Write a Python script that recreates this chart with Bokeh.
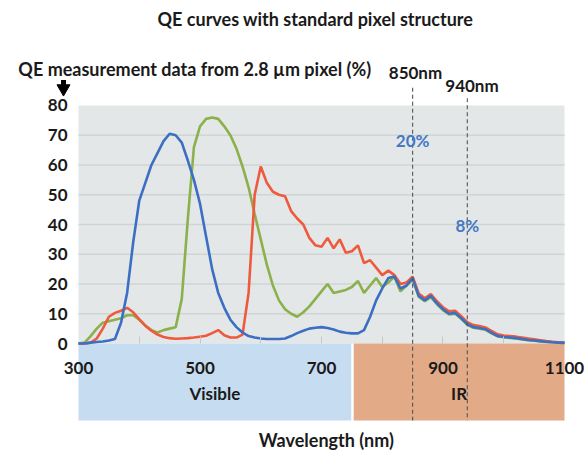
from bokeh.plotting import figure
from bokeh.models import ColumnDataSource, FixedTicker, Range1d
from bokeh.core.properties import value
from bokeh.embed import file_html
from bokeh.resources import INLINE

# ---------------- data ----------------
wavelength = list(range(300, 1101, 10))
blue = [0, 0, 0.3, 0.5, 0.7, 1, 1.5, 7, 17, 34,
        48, 54, 60, 64, 68, 70.5, 70, 67.5, 61.5, 55,
        47, 36, 25, 17, 12, 8, 5.5, 3.7, 2.5, 2,
        1.7, 1.5, 1.5, 1.5, 1.7, 2.5, 3.5, 4.3, 5, 5.3,
        5.5, 5.2, 4.7, 4, 3.6, 3.4, 3.4, 4.5, 9, 14.5,
        18.5, 22, 22.5, 18.5, 19.5, 22, 16, 14.5, 16, 13.5,
        11.5, 10, 10.3, 8.5, 6.5, 5.5, 5.2, 4.8, 3.6, 2.5,
        2.2, 2, 1.8, 1.5, 1.2, 1, 0.8, 0.6, 0.4, 0.3,
        0.2]
green = [0, 0.3, 2.5, 5, 7, 7.5, 8, 8.5, 9.5, 9.5,
         8, 6, 4.5, 3.7, 4.5, 5, 5.5, 15, 42, 66,
         73, 75.5, 76, 75.5, 73, 70, 65.5, 59.5, 52.5, 43.5,
         35, 26.5, 19.5, 14.5, 11.5, 10, 9, 10.5, 12.5, 15,
         17.5, 20, 17, 17.5, 18, 19, 21, 17, 19.5, 22,
         19, 20.5, 22.5, 17.5, 19.5, 21.5, 15.7, 14.2, 15.6, 13.2,
         11.2, 9.8, 10, 8.3, 6.3, 5.3, 5, 4.6, 3.4, 2.4,
         2.1, 1.9, 1.7, 1.4, 1.1, 0.9, 0.7, 0.5, 0.4, 0.3,
         0.2]
red = [0, 0, 0.3, 1.7, 5, 9, 10.3, 11, 12, 10.5,
       8.2, 6, 4.3, 3, 2.2, 1.8, 1.6, 1.7, 1.8, 2,
       2.3, 2.6, 3.5, 4.5, 2.8, 2, 2, 3, 17, 50,
       59.5, 54, 51, 50, 49.5, 44.5, 42, 40, 35.5, 33,
       32.5, 35.5, 32, 35, 30.5, 31, 33, 27, 28, 25.5,
       23, 24.5, 23, 20, 20.5, 22.5, 16.8, 15.2, 16.6, 14.2,
       12.2, 10.8, 11, 9.2, 7.2, 6.2, 5.9, 5.4, 4.2, 3.1,
       2.7, 2.5, 2.3, 2, 1.7, 1.4, 1.1, 0.8, 0.6, 0.4,
       0.3]

y_ticks = [0, 10, 20, 30, 40, 50, 60, 70, 80]
x_ticks = [300, 500, 700, 900, 1100]
x_minor_ticks = [400, 500, 600, 700, 800, 900, 1000]

markers = [850, 940]
marker_labels = ["850nm", "940nm"]
marker_pcts = ["20%", "8%"]

band_names = ["Visible", "IR"]
band_start = [300, 753]
band_end = [749, 1100]

title_text = "QE curves with standard pixel structure"
ylabel_text = "QE measurement data from 2.8 \u00b5m pixel (%)"
xlabel_text = "Wavelength (nm)"

# ---------------- style ----------------
FONT = value("Lato")
TXT = "#1a1a1a"
BLUE = "#3c6fc3"
GREEN = "#8cb04b"
RED = "#ef5a3e"
PCT = "#4479c4"

XMIN, XMAX = 300, 1100
YMIN, YMAX = 0, 80
BAND_BOTTOM = -25.9

p = figure(width=588, height=453, output_backend="svg", toolbar_location=None,
           x_range=Range1d(171.60, 1139.51), y_range=Range1d(-36.97, 115.29),
           min_border=0, min_border_left=0, min_border_right=0,
           min_border_top=0, min_border_bottom=0, title=None)
p.outline_line_color = None
p.background_fill_color = "white"
p.border_fill_color = "white"
p.xgrid.visible = False
p.ygrid.visible = False

# plot background
p.quad(left=[XMIN], right=[XMAX], bottom=[YMIN], top=[YMAX],
       fill_color="#e3e7e7", line_color=None)

# grid lines
p.segment(x0=[XMIN] * (len(y_ticks) - 2), x1=[XMAX] * (len(y_ticks) - 2),
          y0=y_ticks[1:-1], y1=y_ticks[1:-1], line_color="#d0d4d4", line_width=1.5)

# bands
band_src = ColumnDataSource(dict(left=band_start, right=band_end,
                                 color=["#c6dcf1", "#e2aa87"], name=band_names,
                                 mid=[(a + b) / 2 for a, b in zip(band_start, band_end)]))
p.quad(left="left", right="right", bottom=BAND_BOTTOM, top=YMIN, fill_color="color",
       line_color=None, source=band_src)
p.text(x="mid", y=-16.8, text="name", source=band_src, text_font=FONT,
       text_font_style="bold", text_font_size="17px", text_color=TXT,
       text_align="center", text_baseline="middle")

# curves
src = ColumnDataSource(dict(x=wavelength, b=blue, g=green, r=red))
p.line("x", "g", source=src, line_color=GREEN, line_width=2.6)
p.line("x", "r", source=src, line_color=RED, line_width=2.6)
p.line("x", "b", source=src, line_color=BLUE, line_width=2.6)

# marker lines
p.segment(x0=markers, x1=markers, y0=[86.0, 82.4], y1=[BAND_BOTTOM] * 2,
          line_color="#555555", line_width=1.1, line_dash="4 3")
mk_src = ColumnDataSource(dict(x=markers, lab=marker_labels, pct=marker_pcts,
                               ly=[91.1, 86.7], py=[68.2, 39.7], lx=[854.7, 947.7]))
p.text(x="lx", y="ly", text="lab", source=mk_src, text_font=FONT, text_font_style="bold",
       text_font_size="17px", text_color=TXT, text_align="center", text_baseline="middle")
p.text(x="x", y="py", text="pct", source=mk_src, text_font=FONT, text_font_style="bold",
       text_font_size="17px", text_color=PCT, text_align="center", text_baseline="middle")

# titles
p.text(x=[690], y=[109.2], text=[title_text], text_font=FONT, text_font_style="bold",
       text_font_size="18px", text_color=TXT, text_align="center", text_baseline="middle")
p.text(x=[201], y=[92.4], text=[ylabel_text], text_font=FONT, text_font_style="bold",
       text_font_size="18px", text_color=TXT, text_align="left", text_baseline="middle")
p.text(x=[708], y=[-32.6], text=[xlabel_text], text_font=FONT, text_font_style="bold",
       text_font_size="18px", text_color=TXT, text_align="center", text_baseline="middle")
# arrow
p.scatter(x=[275.3], y=[85.7], marker="inverted_triangle", size=13,
          fill_color="black", line_color="black")
p.segment(x0=[275.3], x1=[275.3], y0=[85.7], y1=[88.6], line_color="black", line_width=5)

# axes
ya = p.yaxis[0]
ya.fixed_location = XMIN
ya.ticker = FixedTicker(ticks=y_ticks)
ya.axis_line_color = None
ya.major_tick_line_color = None
ya.minor_tick_line_color = None
ya.major_label_standoff = 5
ya.major_label_text_font = "Lato"
ya.major_label_text_font_style = "bold"
ya.major_label_text_font_size = "17px"
ya.major_label_text_color = TXT

xa = p.xaxis[0]
xa.fixed_location = YMIN
xa.ticker = FixedTicker(ticks=x_ticks, minor_ticks=x_minor_ticks)
xa.axis_line_color = None
xa.major_tick_line_color = None
xa.minor_tick_line_color = "#c4c8c8"
xa.minor_tick_in = 7
xa.minor_tick_out = 0
xa.major_label_standoff = 12
xa.major_label_text_font = "Lato"
xa.major_label_text_font_style = "bold"
xa.major_label_text_font_size = "17px"
xa.major_label_text_color = TXT

open("out.html", "w").write(file_html(p, INLINE))
